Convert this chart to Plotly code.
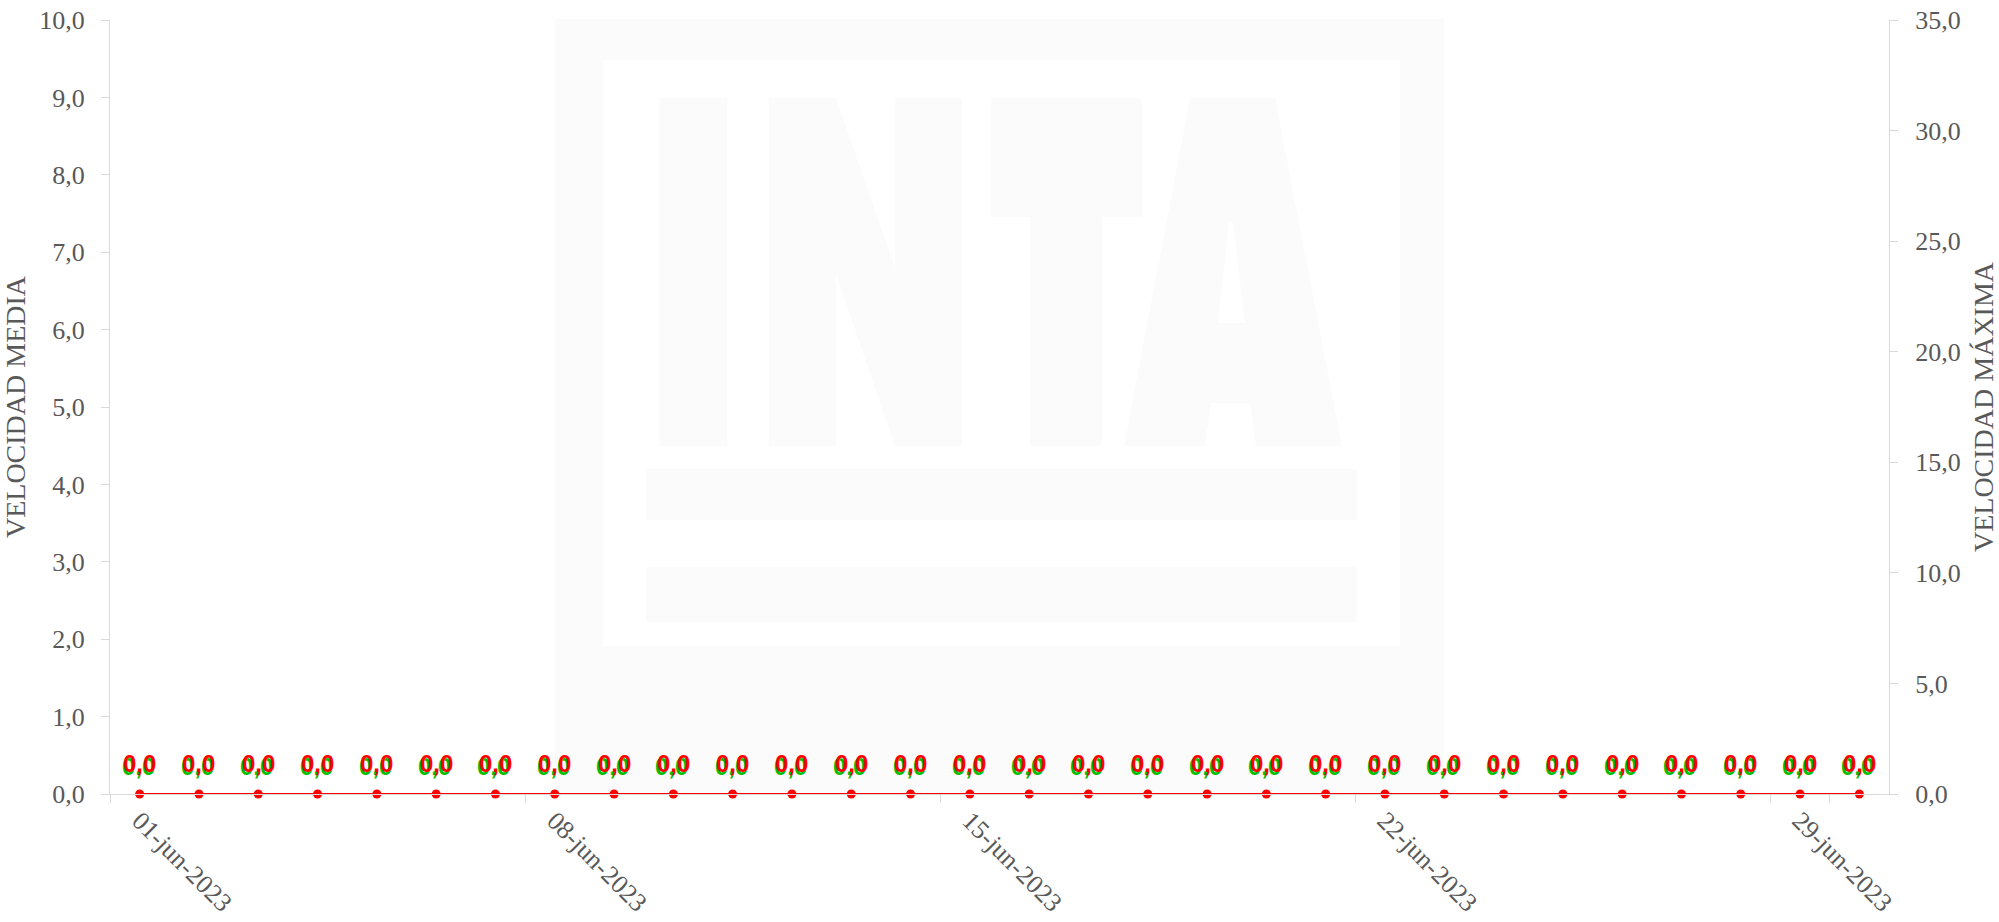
import plotly.graph_objects as go

# ---------------- data ----------------
fechas = [
    "01-jun-2023", "02-jun-2023", "03-jun-2023", "04-jun-2023", "05-jun-2023",
    "06-jun-2023", "07-jun-2023", "08-jun-2023", "09-jun-2023", "10-jun-2023",
    "11-jun-2023", "12-jun-2023", "13-jun-2023", "14-jun-2023", "15-jun-2023",
    "16-jun-2023", "17-jun-2023", "18-jun-2023", "19-jun-2023", "20-jun-2023",
    "21-jun-2023", "22-jun-2023", "23-jun-2023", "24-jun-2023", "25-jun-2023",
    "26-jun-2023", "27-jun-2023", "28-jun-2023", "29-jun-2023", "30-jun-2023",
]
velocidad_media = [
    0.0, 0.0, 0.0, 0.0, 0.0, 0.0, 0.0, 0.0, 0.0, 0.0,
    0.0, 0.0, 0.0, 0.0, 0.0, 0.0, 0.0, 0.0, 0.0, 0.0,
    0.0, 0.0, 0.0, 0.0, 0.0, 0.0, 0.0, 0.0, 0.0, 0.0,
]
velocidad_maxima = [
    0.0, 0.0, 0.0, 0.0, 0.0, 0.0, 0.0, 0.0, 0.0, 0.0,
    0.0, 0.0, 0.0, 0.0, 0.0, 0.0, 0.0, 0.0, 0.0, 0.0,
    0.0, 0.0, 0.0, 0.0, 0.0, 0.0, 0.0, 0.0, 0.0, 0.0,
]
etiquetas_x = ["01-jun-2023", "08-jun-2023", "15-jun-2023", "22-jun-2023", "29-jun-2023"]

# ---------------- layout constants ----------------
W, H = 1999, 922
PX0, PX1, PY0, PY1 = 110, 1889, 20, 794  # plot area in pixels
L, R, T, B = PX0, W - PX1, PY0, H - PY1
PW, PH = W - L - R, H - T - B
GRAY = "#595959"
AXC = "#d9d9d9"
WM = "#fbfbfb"
RED = "#ff0000"
GREEN = "#00c000"


def fmt(v):
    return f"{v:.1f}".replace(".", ",")


fig = go.Figure()

fig.add_trace(go.Scatter(
    x=fechas, y=velocidad_media, mode="lines", name="VELOCIDAD MEDIA",
    line=dict(color=GREEN, width=2), yaxis="y", hoverinfo="skip",
    cliponaxis=False,
))
fig.add_trace(go.Scatter(
    x=fechas, y=velocidad_maxima, mode="lines+markers", name="VELOCIDAD MÁXIMA",
    line=dict(color=RED, width=2), marker=dict(color=RED, size=9),
    yaxis="y2", hoverinfo="skip", cliponaxis=False,
))

annotations = []
lab_font = dict(family="Liberation Sans", size=24, weight="bold")
for f, v in zip(fechas, velocidad_media):
    annotations.append(dict(
        x=f, y=v, xref="x", yref="y", text=fmt(v), showarrow=False,
        yanchor="middle", xanchor="center", yshift=28, xshift=-1.5,
        font=dict(lab_font, color=GREEN),
    ))
for f, v in zip(fechas, velocidad_maxima):
    annotations.append(dict(
        x=f, y=v, xref="x", yref="y2", text=fmt(v), showarrow=False,
        yanchor="middle", xanchor="center", yshift=31, xshift=0,
        font=dict(lab_font, color=RED),
    ))


# --------------- watermark (INTA logo, decorative) ---------------
def px(x):
    return (x - PX0) / PW


def py(y):
    return (PY1 - y) / PH


def rect(x0, y0, x1, y1, color):
    return dict(type="rect", xref="paper", yref="paper", layer="below",
                x0=px(x0), x1=px(x1), y0=py(y1), y1=py(y0),
                fillcolor=color, line=dict(width=0))


def poly(pts, color):
    d = "M " + " L ".join(f"{px(a):.5f},{py(b):.5f}" for a, b in pts) + " Z"
    return dict(type="path", xref="paper", yref="paper", layer="below",
                path=d, fillcolor=color, line=dict(width=0))


shapes = [
    rect(555, 19, 1444, 794, WM),
    rect(603, 60, 1400, 646, "white"),
    rect(659, 98, 727, 446, WM),  # I
    poly([(769, 98), (836, 98), (895, 268), (895, 98), (962, 98), (962, 446),
          (895, 446), (836, 274), (836, 446), (769, 446)], WM),  # N
    rect(991, 98, 1142, 217, WM),  # T bar
    rect(1030, 217, 1102, 446, WM),  # T stem
    poly([(1124, 446), (1190, 98), (1275, 98), (1342, 446), (1256, 446),
          (1250, 403), (1211, 403), (1205, 446)], WM),  # A
    poly([(1229, 223), (1233, 223), (1245, 323), (1218, 323)], "white"),
    rect(646, 469, 1357, 520, WM),
    rect(646, 567, 1357, 622, WM),
]

tick_font = dict(family="Liberation Serif", size=26, color=GRAY)
title_font = dict(family="Liberation Serif", size=28, color=GRAY)

fig.update_layout(
    width=W, height=H,
    margin=dict(l=L, r=R, t=T, b=B, pad=0),
    paper_bgcolor="white", plot_bgcolor="white",
    separators=",.",
    showlegend=False,
    hovermode=False,
    shapes=shapes,
    annotations=annotations,
    xaxis=dict(
        type="category", range=[-0.5, 29.5],
        tickmode="array", tickvals=etiquetas_x, ticktext=etiquetas_x,
        tickson="boundaries", ticks="outside", ticklen=8, tickcolor=AXC,
        tickangle=45, tickfont=tick_font,
        showline=True, linecolor=AXC, linewidth=1,
        showgrid=False, zeroline=False, automargin=False,
        ticklabeloverflow="allow",
    ),
    yaxis=dict(
        range=[0, 10], dtick=1, tickformat=".1f",
        ticks="outside", ticklen=8, tickcolor=AXC,
        showline=True, linecolor=AXC, linewidth=1,
        showgrid=False, zeroline=False,
        tickfont=tick_font, ticklabelstandoff=11,
        ticklabeloverflow="allow",
        title=dict(text="VELOCIDAD MEDIA", font=title_font, standoff=21),
        automargin=False,
    ),
    yaxis2=dict(
        range=[0, 35], dtick=5, tickformat=".1f", overlaying="y", side="right",
        ticks="outside", ticklen=8, tickcolor=AXC,
        showline=True, linecolor=AXC, linewidth=1,
        showgrid=False, zeroline=False,
        tickfont=tick_font, ticklabelstandoff=12,
        ticklabeloverflow="allow",
        title=dict(text="VELOCIDAD MÁXIMA", font=title_font, standoff=17),
        automargin=False,
    ),
)

# remove the default 8px page margin so the figure fills the window exactly
fig.write_html("out.html", config={"displayModeBar": False},
               post_script="document.body.style.margin='0';")
